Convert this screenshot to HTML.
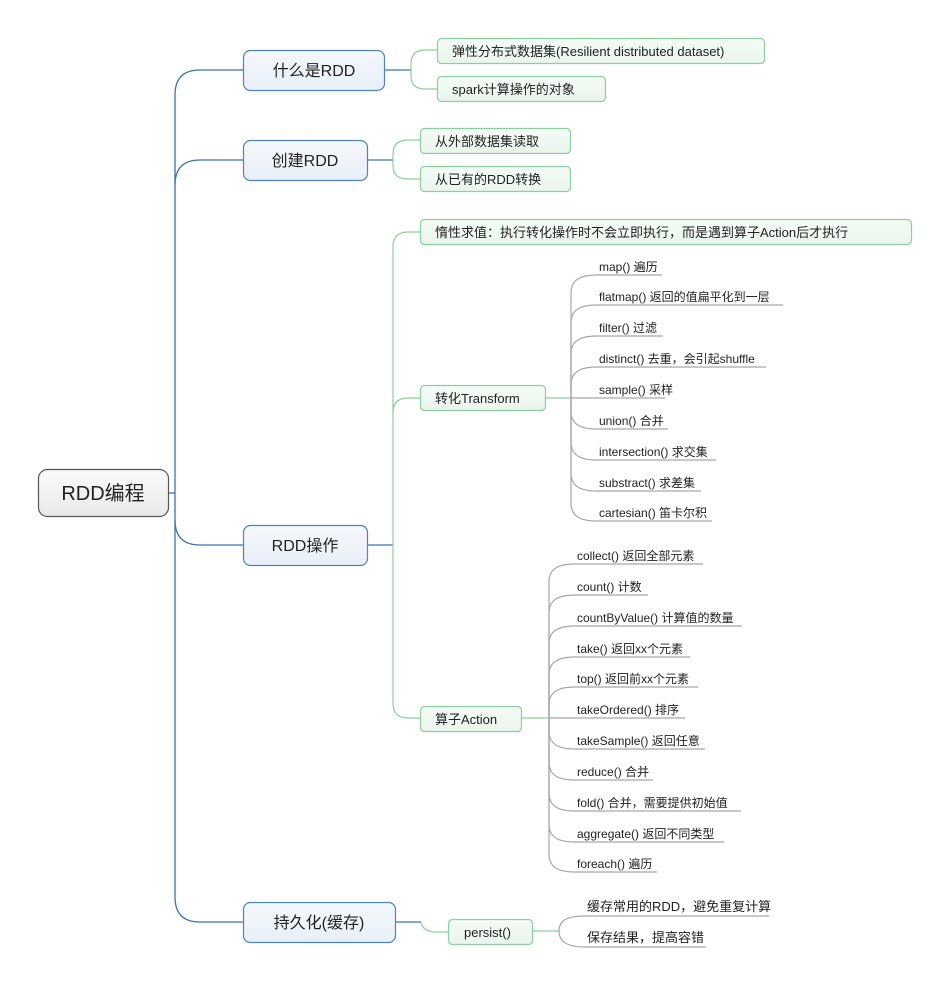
<!DOCTYPE html>
<html><head><meta charset="utf-8"><style>
html,body{margin:0;padding:0;background:#fff;}
svg text{font-family:"Liberation Sans","Noto Sans CJK SC",sans-serif;fill:#222;}
</style></head><body>
<svg width="950" height="985" viewBox="0 0 950 985" xmlns="http://www.w3.org/2000/svg">
<defs>
<linearGradient id="gr" x1="0" y1="0" x2="0" y2="1"><stop offset="0" stop-color="#fbfbfb"/><stop offset="1" stop-color="#e9e9e9"/></linearGradient>
<linearGradient id="bl" x1="0" y1="0" x2="0" y2="1"><stop offset="0" stop-color="#f5f8fc"/><stop offset="1" stop-color="#e8eff8"/></linearGradient>
<linearGradient id="gn" x1="0" y1="0" x2="0" y2="1"><stop offset="0" stop-color="#f5fbf6"/><stop offset="1" stop-color="#e9f5ec"/></linearGradient>
</defs>
<!-- trunk -->
<g fill="none" stroke="#3b73b9" stroke-width="1.3">
<path d="M168,493 L175,493"/>
<path d="M243,70 L200,70 Q175,70 175,95 L175,897 Q175,922 200,922 L243,922"/>
<path d="M243,160 L200,160 Q175,160 175,185"/>
<path d="M243,545 L200,545 Q175,545 175,520"/>
<path d="M384,70 L411,70"/>
<path d="M367,160 L393,160"/>
<path d="M367,545 L393,545"/>
<path d="M395,922 L421,922"/>
</g>
<g fill="none" stroke="#8ccf9f" stroke-width="1.2">
<path d="M437,50 L425,50 Q411,50 411,64 L411,76 Q411,89 425,89 L437,89"/>
<path d="M420,140 L408,140 Q393,140 393,154 L393,166 Q393,179 408,179 L420,179"/>
<path d="M420,232 L408,232 Q393,232 393,247 L393,703 Q393,718 408,718 L420,718"/>
<path d="M420,398 L408,398 Q393,398 393,413"/>
<path d="M421,922 Q423,932 436,932 L448,932"/>
<path d="M545,398 L571,398"/>
<path d="M521,718 L549,718"/>
<path d="M532,931 L559,931"/>
</g>
<!-- leaf connectors -->
<g fill="none" stroke="#a8a8a8" stroke-width="1.2">
<path d="M662,275 L597,275 C580,275 571,280 571,293 L571,398"/>
<path d="M783,305 L597,305 C580,305 571,310 571,323 L571,398"/>
<path d="M663,336 L597,336 C580,336 571,341 571,354 L571,398"/>
<path d="M766,367 L597,367 C580,367 571,372 571,385 L571,398"/>
<path d="M571,398 L665,398"/>
<path d="M668,429 L597,429 C580,429 571,424 571,411 L571,398"/>
<path d="M716,460 L597,460 C580,460 571,455 571,442 L571,398"/>
<path d="M701,491 L597,491 C580,491 571,486 571,473 L571,398"/>
<path d="M712,521 L597,521 C580,521 571,516 571,503 L571,398"/>

<path d="M703,564 L575,564 C558,564 549,569 549,582 L549,718"/>
<path d="M648,595 L575,595 C558,595 549,600 549,613 L549,718"/>
<path d="M742,626 L575,626 C558,626 549,631 549,644 L549,718"/>
<path d="M690,657 L575,657 C558,657 549,662 549,675 L549,718"/>
<path d="M698,687 L575,687 C558,687 549,692 549,705 L549,718"/>
<path d="M549,718 L685,718"/>
<path d="M705,749 L575,749 C558,749 549,744 549,731 L549,718"/>
<path d="M653,780 L575,780 C558,780 549,775 549,762 L549,718"/>
<path d="M741,811 L575,811 C558,811 549,806 549,793 L549,718"/>
<path d="M724,842 L575,842 C558,842 549,837 549,824 L549,718"/>
<path d="M657,872 L575,872 C558,872 549,867 549,854 L549,718"/>

<path d="M769,916 L585,916 C566,916 559,921 559,931 C559,941 566,947 585,947 L706,947"/>
</g>
<!-- root -->
<rect x="38.5" y="469.5" width="130" height="47" rx="9" fill="url(#gr)" stroke="#555" stroke-width="1.2"/>
<text x="103" y="500" font-size="20" text-anchor="middle">RDD编程</text>
<!-- level1 -->
<g fill="url(#bl)" stroke="#4f82bf" stroke-width="1.2">
<rect x="243.5" y="50.5" width="141" height="40" rx="7"/>
<rect x="243.5" y="140.5" width="124" height="40" rx="7"/>
<rect x="243.5" y="525.5" width="124" height="40" rx="7"/>
<rect x="243.5" y="902.5" width="152" height="40" rx="7"/>
</g>
<g font-size="16" text-anchor="middle">
<text x="314" y="76">什么是RDD</text>
<text x="305" y="166">创建RDD</text>
<text x="305" y="551">RDD操作</text>
<text x="319" y="928">持久化(缓存)</text>
</g>
<!-- green boxes -->
<g fill="url(#gn)" stroke="#8ccf9f" stroke-width="1.2">
<rect x="437.5" y="38.5" width="327" height="25" rx="4"/>
<rect x="437.5" y="76.5" width="168" height="25" rx="4"/>
<rect x="420.5" y="128.5" width="150" height="25" rx="4"/>
<rect x="420.5" y="166.5" width="150" height="25" rx="4"/>
<rect x="420.5" y="219.5" width="491" height="25" rx="4"/>
<rect x="420.5" y="385.5" width="125" height="25" rx="4"/>
<rect x="420.5" y="706.5" width="101" height="25" rx="4"/>
<rect x="448.5" y="919.5" width="84" height="25" rx="4"/>
</g>
<g font-size="13">
<text x="452" y="56">弹性分布式数据集(Resilient distributed dataset)</text>
<text x="452" y="94">spark计算操作的对象</text>
<text x="435" y="146">从外部数据集读取</text>
<text x="435" y="184">从已有的RDD转换</text>
<text x="435" y="237">惰性求值：执行转化操作时不会立即执行，而是遇到算子Action后才执行</text>
<text x="435" y="403">转化Transform</text>
<text x="435" y="724">算子Action</text>
<text x="464" y="937">persist()</text>
</g>
<g font-size="12">
<text x="599" y="271">map() 遍历</text>
<text x="599" y="301">flatmap() 返回的值扁平化到一层</text>
<text x="599" y="332">filter() 过滤</text>
<text x="599" y="363">distinct() 去重，会引起shuffle</text>
<text x="599" y="394">sample() 采样</text>
<text x="599" y="425">union() 合并</text>
<text x="599" y="456">intersection() 求交集</text>
<text x="599" y="487">substract() 求差集</text>
<text x="599" y="517">cartesian() 笛卡尔积</text>

<text x="577" y="560">collect() 返回全部元素</text>
<text x="577" y="591">count() 计数</text>
<text x="577" y="622">countByValue() 计算值的数量</text>
<text x="577" y="653">take() 返回xx个元素</text>
<text x="577" y="683">top() 返回前xx个元素</text>
<text x="577" y="714">takeOrdered() 排序</text>
<text x="577" y="745">takeSample() 返回任意</text>
<text x="577" y="776">reduce() 合并</text>
<text x="577" y="807">fold() 合并，需要提供初始值</text>
<text x="577" y="838">aggregate() 返回不同类型</text>
<text x="577" y="868">foreach() 遍历</text>
</g>
<g font-size="13">
<text x="587" y="911">缓存常用的RDD，避免重复计算</text>
<text x="587" y="942">保存结果，提高容错</text>
</g>
</svg>
</body></html>
